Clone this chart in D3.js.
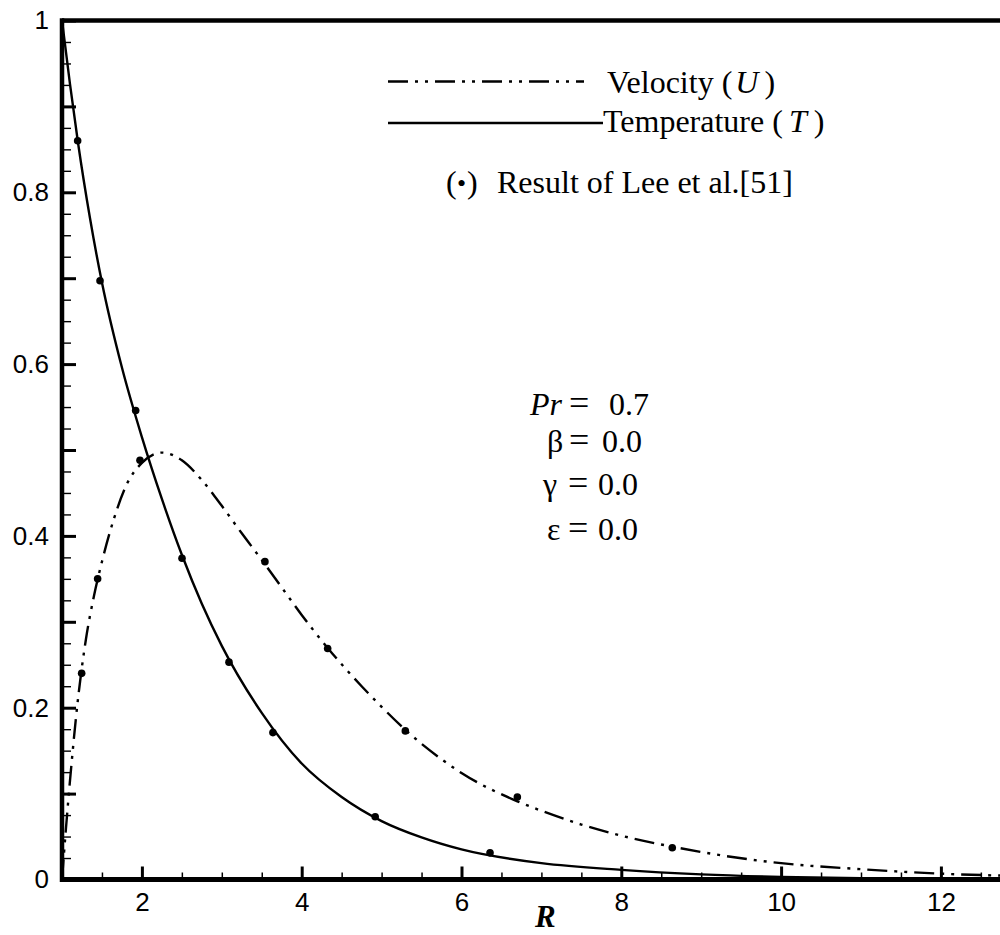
<!DOCTYPE html>
<html>
<head>
<meta charset="utf-8">
<script src="https://cdn.jsdelivr.net/npm/d3@7/dist/d3.min.js"></script>
<style>
  html, body { margin: 0; padding: 0; background: #fff; }
  svg { display: block; }
</style>
</head>
<body>
<svg id="chart" width="1000" height="935"></svg>
<script>
// ---------- data ----------
const curveX = [1.0, 1.05, 1.1, 1.2, 1.3, 1.4, 1.5, 1.65, 1.8, 2.0, 2.25, 2.5, 2.75, 3.0, 3.25, 3.5, 3.75, 4.0, 4.33, 4.75, 5.0, 5.3, 5.75, 6.0, 6.7, 7.0, 7.5, 8.0, 8.65, 9.0, 10.0, 11.0, 12.0, 13.0];
const velocityU = [0.000, 0.060, 0.115, 0.210, 0.280, 0.330, 0.370, 0.420, 0.458, 0.485, 0.497, 0.488, 0.465, 0.435, 0.403, 0.372, 0.340, 0.308, 0.269, 0.225, 0.201, 0.174, 0.140, 0.124, 0.091, 0.080, 0.064, 0.051, 0.038, 0.032, 0.019, 0.012, 0.0068, 0.004];
const tempX = [1.0, 1.1, 1.2, 1.35, 1.5, 1.75, 2.0, 2.25, 2.5, 2.75, 3.0, 3.5, 4.0, 4.5, 5.0, 5.5, 6.0, 7.0, 8.0, 9.0, 10.0, 11.0, 12.0, 13.0];
const temperatureT = [1.000, 0.926, 0.858, 0.770, 0.695, 0.596, 0.515, 0.443, 0.378, 0.321, 0.272, 0.194, 0.135, 0.096, 0.068, 0.049, 0.035, 0.019, 0.0112, 0.006, 0.003, 0.0015, 0.0007, 0.0003];
const leeUx = [1.246, 1.446, 1.976, 3.54, 4.325, 5.297, 6.699, 8.638];
const leeUy = [0.240, 0.350, 0.488, 0.370, 0.269, 0.173, 0.096, 0.037];
const leeTx = [1.196, 1.476, 1.922, 2.502, 3.09, 3.64, 4.92, 6.357];
const leeTy = [0.860, 0.697, 0.546, 0.374, 0.253, 0.171, 0.073, 0.031];
const xMajorTicks = [2, 4, 6, 8, 10, 12];
const yMajorTicks = [0, 0.1, 0.2, 0.3, 0.4, 0.5, 0.6, 0.7, 0.8, 0.9, 1.0];
const yLabelTicks = [0, 0.2, 0.4, 0.6, 0.8, 1.0];
const legendLabels = ["Velocity", "Temperature"];
const legendSymbols = ["U", "T"];
const paramSymbols = ["Pr", "\u03B2", "\u03B3", "\u03B5"];
const paramValues = ["0.7", "0.0", "0.0", "0.0"];

// ---------- layout ----------
const svg = d3.select("#chart");
const pLeft = 62, pTop = 20.5, pBottom = 879.5;
const x = d3.scaleLinear().domain([1, 13]).range([pLeft, pLeft + 12 * 79.9]);
const y = d3.scaleLinear().domain([0, 1]).range([pBottom, pTop]);
const rightEdge = 1010;

svg.append("defs").append("clipPath").attr("id", "clip")
  .append("rect").attr("x", pLeft).attr("y", pTop).attr("width", rightEdge - pLeft).attr("height", pBottom - pTop);

// minor ticks
const xMinor = d3.range(1.5, 13.01, 0.5).filter(v => !xMajorTicks.includes(v));
const yMinor = d3.range(0, 1.0001, 0.025).map(v => +v.toFixed(3)).filter(v => Math.abs(v * 10 - Math.round(v * 10)) > 1e-6);

const sans = "Liberation Sans, Arial, sans-serif";
const gx = svg.append("g").attr("transform", `translate(0,${pBottom})`);
gx.call(d3.axisBottom(x).tickValues(xMinor).tickSize(-7).tickFormat(""))
  .call(g => g.select(".domain").remove())
  .call(g => g.selectAll("line").attr("stroke", "#000").attr("stroke-width", 1.5));
const gx2 = svg.append("g").attr("transform", `translate(0,${pBottom})`);
gx2.call(d3.axisBottom(x).tickValues(xMajorTicks).tickSize(-13).tickPadding(13).tickFormat(d3.format("d")))
  .call(g => g.select(".domain").remove())
  .call(g => g.selectAll("line").attr("stroke", "#000").attr("stroke-width", 3))
  .call(g => g.selectAll("text").attr("fill", "#000").attr("font-family", sans).attr("font-size", 26));

const gy = svg.append("g").attr("transform", `translate(${pLeft},0)`);
gy.call(d3.axisLeft(y).tickValues(yMinor).tickSize(-9).tickFormat(""))
  .call(g => g.select(".domain").remove())
  .call(g => g.selectAll("line").attr("stroke", "#000").attr("stroke-width", 1.4));
const gy2 = svg.append("g").attr("transform", `translate(${pLeft},0)`);
gy2.call(d3.axisLeft(y).tickValues(yMajorTicks).tickSize(-14).tickPadding(13)
    .tickFormat(d => yLabelTicks.some(v => Math.abs(v - d) < 1e-9) ? d3.format("~g")(d) : ""))
  .call(g => g.select(".domain").remove())
  .call(g => g.selectAll("line").attr("stroke", "#000").attr("stroke-width", 3))
  .call(g => g.selectAll("text").attr("fill", "#000").attr("font-family", sans).attr("font-size", 26));

// frame lines
svg.append("line").attr("x1", pLeft).attr("x2", rightEdge).attr("y1", pTop).attr("y2", pTop).attr("stroke", "#000").attr("stroke-width", 4.7);
svg.append("line").attr("x1", pLeft - 2).attr("x2", rightEdge).attr("y1", pBottom).attr("y2", pBottom).attr("stroke", "#000").attr("stroke-width", 5);
svg.append("line").attr("x1", pLeft).attr("x2", pLeft).attr("y1", pTop - 2.3).attr("y2", pBottom + 2.5).attr("stroke", "#000").attr("stroke-width", 4.5);

// curves
const plot = svg.append("g").attr("clip-path", "url(#clip)");
const line = d3.line().x(d => x(d[0])).y(d => y(d[1])).curve(d3.curveMonotoneX);
const dashU = "20,7,3,7,3,7";
plot.append("path").datum(curveX.map((v, i) => [v, velocityU[i]]))
  .attr("d", line).attr("fill", "none").attr("stroke", "#000").attr("stroke-width", 2.4)
  .attr("stroke-dasharray", dashU);
plot.append("path").datum(tempX.map((v, i) => [v, temperatureT[i]]))
  .attr("d", line).attr("fill", "none").attr("stroke", "#000").attr("stroke-width", 2.4);

// Lee et al. points
const pts = leeUx.map((v, i) => [v, leeUy[i]]).concat(leeTx.map((v, i) => [v, leeTy[i]]));
plot.selectAll("circle.lee").data(pts).enter().append("circle")
  .attr("class", "lee").attr("cx", d => x(d[0])).attr("cy", d => y(d[1])).attr("r", 3.8).attr("fill", "#000");

// legend
const serif = "Liberation Serif, Times New Roman, serif";
const leg = svg.append("g").attr("font-family", serif).attr("font-size", 32).attr("fill", "#000");
leg.append("line").attr("x1", 388).attr("x2", 584).attr("y1", 81.5).attr("y2", 81.5)
  .attr("stroke", "#000").attr("stroke-width", 2.4).attr("stroke-dasharray", dashU);
leg.append("line").attr("x1", 388).attr("x2", 603).attr("y1", 123).attr("y2", 123)
  .attr("stroke", "#000").attr("stroke-width", 2.4);
const legY = [93, 132], legX = [607, 603], symDx = [3, 6], closeDx = [6, 7];
legendLabels.forEach((lab, i) => {
  const t = leg.append("text").attr("x", legX[i]).attr("y", legY[i]);
  t.append("tspan").text(lab + " (");
  t.append("tspan").attr("dx", symDx[i]).attr("font-style", "italic").text(legendSymbols[i]);
  t.append("tspan").attr("dx", closeDx[i]).text(")");
});
const lee = leg.append("text").attr("y", 193);
lee.append("tspan").attr("x", 446).text("(");
lee.append("tspan").attr("x", 457).attr("font-size", 26).attr("dy", -1).text("\u2022");
lee.append("tspan").attr("x", 467).attr("dy", 1).text(")");
lee.append("tspan").attr("x", 497).text("Result of Lee et al.[51]");

// parameter annotation
const ann = svg.append("g").attr("font-family", serif).attr("font-size", 32).attr("fill", "#000");
const rowY = [415, 452, 495, 540];
const symX = [530, 547, 543, 547];
const eqX = [569, 569, 568, 568];
const valX = [609, 602, 598, 598];
paramSymbols.forEach((s, i) => {
  const t = ann.append("text").attr("y", rowY[i]);
  t.append("tspan").attr("x", symX[i]).attr("font-style", i === 0 ? "italic" : "normal").text(s);
  t.append("tspan").attr("x", eqX[i]).attr("font-size", 36).text("=");
  t.append("tspan").attr("x", valX[i]).text(paramValues[i]);
});

// axis title
svg.append("text").attr("x", x(7.05)).attr("y", 927).attr("text-anchor", "middle")
  .attr("font-family", serif).attr("font-size", 31).attr("font-weight", "bold").attr("font-style", "italic")
  .attr("fill", "#000").text("R");
</script>
</body>
</html>
